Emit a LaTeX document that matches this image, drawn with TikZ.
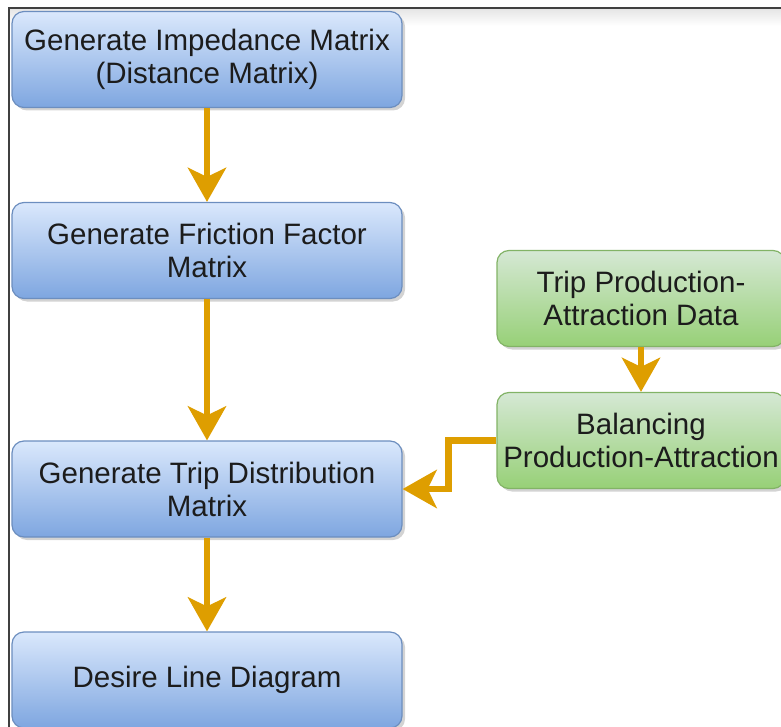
\documentclass[tikz,border=0pt]{standalone}
\usepackage{fontspec}
\setmainfont{Liberation Sans}
\usetikzlibrary{arrows.meta,shadows}
\definecolor{bluetop}{HTML}{DAE8FC}
\definecolor{bluebot}{HTML}{7EA6E0}
\definecolor{bluestroke}{HTML}{6C8EBF}
\definecolor{greentop}{HTML}{D5E8D4}
\definecolor{greenbot}{HTML}{97D077}
\definecolor{greenstroke}{HTML}{82B366}
\definecolor{arrorange}{RGB}{222,158,0}
\definecolor{txtcol}{RGB}{28,28,28}
\definecolor{framecol}{RGB}{64,64,64}
\tikzset{
  boxbase/.style={rectangle, rounded corners=12pt, line width=1.2pt, align=center,
    font=\fontsize{29.5}{33}\selectfont, text=txtcol, inner xsep=0pt,
    drop shadow={opacity=0.35, shadow xshift=3pt, shadow yshift=-3pt}},
  bluebox/.style={boxbase, draw=bluestroke, top color=bluetop, bottom color=bluebot,
    minimum width=390pt, minimum height=96pt},
  greenbox/.style={boxbase, draw=greenstroke, top color=greentop, bottom color=greenbot,
    minimum width=288pt, minimum height=96pt},
  arr/.style={draw=arrorange, line width=6.5pt,
    -{Stealth[length=34pt, width=38pt, inset=9pt, fill=arrorange]}},
}
\begin{document}
\begin{tikzpicture}[x=1pt,y=-1pt]
\useasboundingbox (0,0) rectangle (781,727);
\clip (0,0) rectangle (781,727);
% frame
\shade[top color=black!10, bottom color=white] (10,9) rectangle (781,26);
\draw[framecol, line width=2pt] (9,727) -- (9,8) -- (781,8);
% blue column
\node[bluebox] (b1) at (207,59.5) {Generate Impedance Matrix\\(Distance Matrix)};
\node[bluebox] (b2) at (207,250.5) {Generate Friction Factor\\Matrix};
\node[bluebox] (b3) at (207,489) {Generate Trip Distribution\\Matrix};
\node[bluebox] (b4) at (207,680) {Desire Line Diagram};
% green column
\node[greenbox] (g1) at (641,298.5) {Trip Production-\\Attraction Data};
\node[greenbox] (g2) at (641,440.5) {Balancing\\Production-Attraction};
% arrows
\draw[arr] (b1) -- (b2);
\draw[arr] (b2) -- (b3);
\draw[arr] (b3) -- (b4);
\draw[arr] (g1) -- (g2);
\draw[arr] (g2.west) -- ++(-48,0) |- (b3.east);
\end{tikzpicture}
\end{document}
